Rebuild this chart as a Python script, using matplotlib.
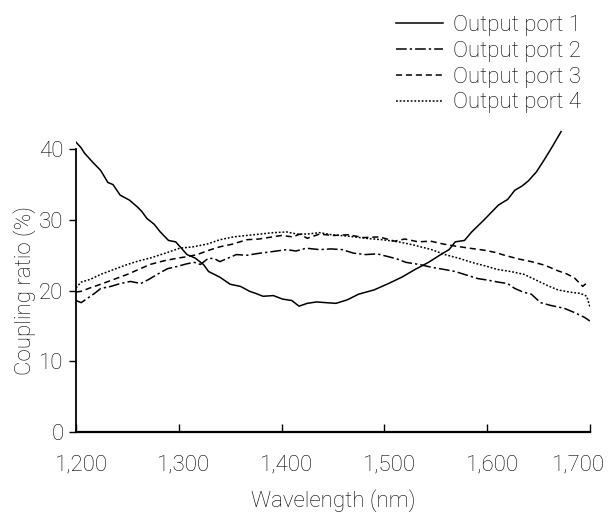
import numpy as np
import matplotlib.pyplot as plt
from matplotlib.transforms import ScaledTranslation

plt.rcParams['font.family'] = ['Roboto', 'DejaVu Sans']
plt.rcParams['font.weight'] = 'light'
plt.rcParams['axes.labelweight'] = 'light'

# port 1 (solid)
wl1 = [1200, 1205, 1208, 1216, 1224, 1231, 1236, 1243, 1252, 1260, 1264, 1269, 1276,
       1282, 1290, 1297, 1308, 1316, 1324, 1329, 1340, 1350, 1360, 1369, 1375, 1382,
       1392, 1401, 1410, 1417, 1425, 1434, 1443, 1453, 1464, 1475, 1490, 1504, 1517,
       1530, 1543, 1556, 1563, 1569, 1578, 1585, 1597, 1611, 1620, 1627, 1634, 1640,
       1648, 1656, 1664, 1672]
p1 = [41.0, 40.2, 39.5, 38.2, 37.0, 35.3, 35.0, 33.5, 32.8, 31.8, 31.2, 30.2, 29.4,
      28.3, 27.1, 26.9, 25.1, 24.6, 23.7, 22.7, 21.9, 20.9, 20.6, 19.9, 19.6, 19.2,
      19.3, 18.8, 18.6, 17.8, 18.2, 18.4, 18.3, 18.2, 18.7, 19.5, 20.1, 21.0, 21.9,
      23.0, 24.0, 25.2, 25.8, 26.9, 27.1, 28.3, 30.0, 32.1, 32.9, 34.2, 34.8, 35.5,
      36.8, 38.6, 40.5, 42.5]

# port 2 (dash-dot)
wl2 = [1200, 1205, 1212, 1218, 1224, 1234, 1243, 1253, 1263, 1271, 1279, 1289, 1298,
       1308, 1315, 1321, 1329, 1335, 1340, 1348, 1356, 1366, 1379, 1390, 1405, 1414,
       1424, 1437, 1448, 1459, 1470, 1482, 1493, 1504, 1512, 1521, 1534, 1546, 1558,
       1569, 1580, 1591, 1600, 1611, 1620, 1627, 1635, 1643, 1652, 1662, 1675, 1685,
       1695, 1700]
p2 = [18.6, 18.3, 19.0, 19.6, 20.3, 20.6, 21.0, 21.3, 21.0, 21.6, 22.3, 23.1, 23.4,
      23.8, 24.0, 23.7, 24.6, 24.5, 24.1, 24.6, 25.1, 25.0, 25.3, 25.5, 25.8, 25.6,
      26.0, 25.8, 25.9, 25.8, 25.3, 25.1, 25.2, 24.8, 24.5, 24.0, 23.7, 23.3, 23.0,
      22.7, 22.2, 21.7, 21.5, 21.2, 21.0, 20.3, 19.8, 19.5, 18.3, 17.9, 17.5, 16.9,
      16.2, 15.7]

# port 3 (dashed)
wl3 = [1200, 1205, 1214, 1224, 1237, 1250, 1261, 1272, 1285, 1299, 1308, 1318, 1329,
       1340, 1353, 1366, 1378, 1391, 1400, 1411, 1418, 1425, 1437, 1450, 1465, 1480,
       1495, 1510, 1520, 1533, 1545, 1557, 1569, 1583, 1598, 1608, 1617, 1630, 1643,
       1656, 1669, 1677, 1685, 1693, 1698]
p3 = [19.8, 19.9, 20.4, 20.9, 21.6, 22.3, 23.0, 23.7, 24.2, 24.6, 24.8, 25.1, 25.7,
      26.2, 26.6, 27.2, 27.3, 27.6, 27.8, 27.6, 28.0, 27.4, 28.0, 27.8, 27.9, 27.5,
      27.6, 27.0, 27.3, 26.9, 27.0, 26.6, 26.3, 26.0, 25.7, 25.4, 25.0, 24.5, 24.1,
      23.6, 22.8, 22.4, 21.8, 20.6, 21.2]

# port 4 (dotted)
wl4 = [1200, 1205, 1214, 1224, 1237, 1250, 1261, 1272, 1287, 1301, 1314, 1328, 1340,
       1353, 1366, 1379, 1392, 1405, 1415, 1425, 1437, 1449, 1465, 1482, 1498, 1514,
       1530, 1546, 1559, 1572, 1585, 1598, 1610, 1623, 1636, 1649, 1659, 1669, 1680,
       1691, 1697, 1700]
p4 = [20.4, 21.2, 21.6, 22.3, 23.0, 23.7, 24.2, 24.6, 25.3, 26.0, 26.2, 26.6, 27.2,
      27.6, 27.8, 28.0, 28.2, 28.3, 28.0, 28.0, 28.2, 27.9, 27.7, 27.4, 27.2, 26.9,
      26.4, 25.8, 25.1, 24.6, 24.0, 23.5, 23.0, 22.7, 22.3, 21.4, 20.7, 20.1, 19.8,
      19.6, 19.2, 17.7]

labels = ['Output port 1', 'Output port 2', 'Output port 3', 'Output port 4']
xticks = [1200, 1300, 1400, 1500, 1600, 1700]
xticklabels = ['1,200', '1,300', '1,400', '1,500', '1,600', '1,700']
yticks = [0, 10, 20, 30, 40]

fig = plt.figure(figsize=(6.1, 5.2), dpi=100)
ax = fig.add_axes([0.1246, 0.1692, 0.8424, 0.5846])

lw = 1.1
ax.plot(wl1, p1, color='k', lw=lw, ls='-', label=labels[0])
ax.plot(wl2, p2, color='k', lw=lw, ls=(0, (7, 2, 1.5, 2)), label=labels[1])
ax.plot(wl3, p3, color='k', lw=lw, ls=(0, (4, 2.5)), label=labels[2])
ax.plot(wl4, p4, color='k', lw=lw, ls=(0, (1.2, 1.2)), label=labels[3])

ax.set_xlim(1200, 1700)
ax.set_ylim(0, 43)
ax.spines['top'].set_visible(False)
ax.spines['right'].set_visible(False)
ax.spines['left'].set_bounds(0, 40)
ax.spines['left'].set_linewidth(1.3)
ax.spines['bottom'].set_linewidth(1.6)

ax.set_xticks(xticks)
ax.set_xticklabels(xticklabels)
ax.set_yticks(yticks)
ax.tick_params(axis='x', direction='in', length=6, width=1, labelsize=16, pad=16)
ax.tick_params(axis='y', direction='out', length=5, width=1, labelsize=16, pad=4)

# nudge tick labels like the original: slightly right, last one pulled in
for i, lab in enumerate(ax.get_xticklabels()):
    dx = 5 if i < len(xticks) - 1 else -11
    lab.set_transform(lab.get_transform() + ScaledTranslation(dx / 100, 0, fig.dpi_scale_trans))

ax.set_xlabel('Wavelength (nm)', fontsize=16, labelpad=10)
ax.set_ylabel('Coupling ratio (%)', fontsize=16)
ax.yaxis.set_label_coords(-0.078, 20 / 43)

fig.legend(loc='upper right', bbox_to_anchor=(0.985, 1.01), frameon=False,
           fontsize=16, handlelength=2.1, labelspacing=0.22, handletextpad=0.45)

fig.savefig('out.png', dpi=100)
